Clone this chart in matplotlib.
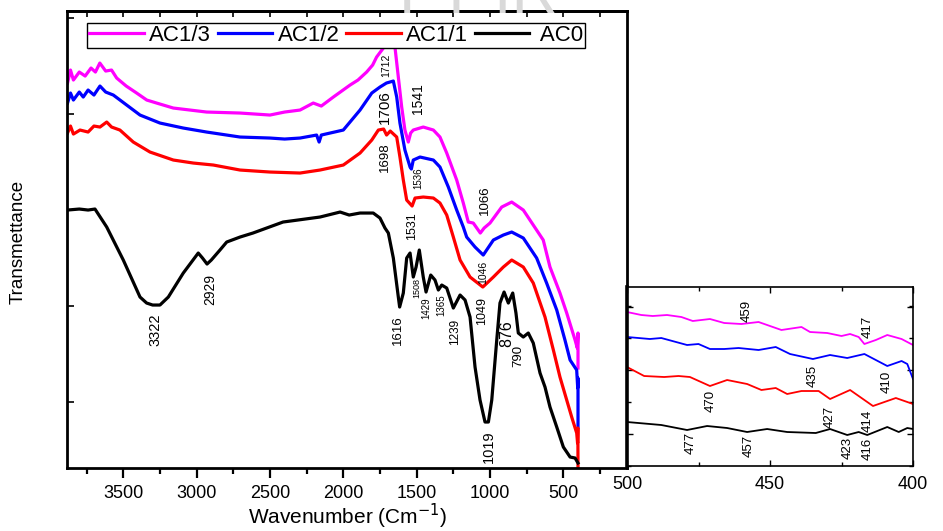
import matplotlib
matplotlib.use("Agg")
import matplotlib.pyplot as plt
from matplotlib.ticker import MultipleLocator, NullFormatter

plt.rcParams.update({
    "font.family": ["Liberation Sans", "DejaVu Sans"],
    "font.size": 13,
})

# ---------------- data (arbitrary transmittance, stacked) ----------------
ac13_wn = [3880, 3860, 3840, 3800, 3760, 3720, 3690, 3660, 3620, 3580, 3545, 3480,
           3409, 3340, 3273, 3159, 2932, 2704, 2500, 2400, 2295, 2205, 2150, 2068,
           1954, 1900, 1841, 1800, 1773, 1727, 1712, 1670, 1648, 1625, 1602, 1580,
           1557, 1541, 1523, 1455, 1386, 1341, 1295, 1227, 1182, 1148, 1114, 1066,
           1040, 1000, 920, 852, 773, 705, 637, 591, 523, 477, 420, 405, 400, 400]
ac13_t = [385, 398, 388, 396, 392, 400, 396, 405, 397, 398, 390, 382,
          375, 368, 365, 360, 356, 355, 353, 356, 358, 365, 362, 371,
          383, 388, 396, 403, 411, 420, 423, 426, 421, 391, 361, 338,
          326, 335, 338, 341, 338, 331, 315, 288, 265, 246, 245, 235,
          240, 245, 261, 266, 258, 243, 228, 201, 175, 155, 128, 120, 135, 100]

ac12_wn = [3880, 3860, 3840, 3800, 3773, 3740, 3700, 3659, 3620, 3568, 3477, 3386,
           3250, 3091, 2932, 2704, 2500, 2400, 2295, 2182, 2165, 2150, 2000, 1886,
           1806, 1750, 1706, 1659, 1636, 1614, 1580, 1545, 1536, 1523, 1477, 1386,
           1341, 1284, 1227, 1182, 1159, 1102, 1046, 977, 909, 852, 773, 682,
           614, 545, 489, 454, 409, 402, 400, 400]
ac12_t = [365, 375, 368, 376, 371, 378, 373, 382, 376, 373, 363, 353,
          345, 340, 336, 331, 330, 329, 330, 333, 326, 333, 338, 358,
          375, 381, 385, 387, 371, 345, 318, 301, 299, 308, 311, 308,
          301, 281, 258, 241, 231, 221, 213, 228, 233, 236, 230, 210,
          185, 158, 128, 108, 98, 80, 90, 41]

ac11_wn = [3880, 3860, 3840, 3795, 3740, 3700, 3659, 3613, 3580, 3523, 3432, 3318,
           3159, 3023, 2886, 2704, 2500, 2295, 2159, 2000, 1886, 1806, 1761, 1725,
           1705, 1680, 1636, 1614, 1591, 1568, 1531, 1511, 1455, 1386, 1341, 1295,
           1250, 1204, 1136, 1049, 977, 909, 852, 773, 705, 625, 568, 523,
           477, 443, 409, 403, 401, 400]
ac11_t = [335, 342, 334, 338, 336, 342, 341, 346, 341, 338, 326, 316,
          308, 305, 303, 298, 296, 295, 298, 303, 315, 328, 338, 339,
          333, 337, 331, 311, 288, 268, 262, 270, 271, 270, 265, 253,
          231, 208, 191, 181, 191, 201, 208, 201, 185, 151, 118, 91,
          68, 51, 35, 25, 40, 0]

ac0_wn = [3880, 3800, 3740, 3693, 3613, 3500, 3386, 3341, 3300, 3250, 3193, 3091,
          2989, 2960, 2929, 2900, 2841, 2795, 2704, 2616, 2411, 2159, 2022, 1960,
          1886, 1796, 1750, 1716, 1693, 1659, 1625, 1616, 1591, 1568, 1545, 1523,
          1504, 1482, 1455, 1436, 1404, 1375, 1352, 1329, 1295, 1250, 1204, 1170,
          1136, 1102, 1068, 1034, 1011, 988, 954, 932, 904, 875, 845, 823,
          807, 773, 739, 705, 659, 625, 591, 545, 500, 454, 420, 400]
ac0_t = [258, 259, 258, 259, 241, 208, 171, 165, 163, 163, 171, 195,
         215, 210, 204, 208, 218, 226, 231, 235, 246, 251, 256, 253,
         255, 255, 250, 240, 235, 210, 171, 161, 175, 210, 215, 191,
         201, 218, 191, 176, 193, 188, 178, 183, 180, 160, 173, 168,
         151, 101, 68, 46, 46, 68, 128, 165, 176, 165, 175, 155,
         135, 131, 135, 125, 95, 81, 61, 41, 21, 11, 10, 5]

# zoom 500-400 cm-1
z13_wn = [500, 495, 491, 486, 481, 477, 471, 466, 460, 454, 446, 439, 436, 430,
          425, 422, 419, 417, 413, 409, 404, 400]
z13_t = [154, 151, 150, 151, 149, 145, 147, 143, 142, 144, 136, 139, 134, 133,
         130, 132, 129, 122, 126, 131, 127, 121]
z12_wn = [500, 492, 488, 479, 475, 471, 466, 461, 454, 448, 443, 435, 429, 423,
          417, 409, 404, 402, 400]
z12_t = [129, 127, 128, 121, 122, 117, 117, 118, 116, 119, 112, 107, 111, 108,
         112, 100, 105, 102, 87]
z11_wn = [500, 494, 487, 482, 478, 471, 465, 458, 453, 448, 444, 439, 433, 429,
          422, 414, 406, 400]
z11_t = [99, 90, 89, 90, 89, 80, 86, 82, 76, 78, 72, 75, 75, 67,
         76, 60, 68, 62]
z0_wn = [500, 488, 479, 472, 465, 458, 451, 444, 434, 429, 423, 419, 416, 409,
         405, 402, 400]
z0_t = [44, 41, 36, 40, 38, 34, 37, 34, 33, 37, 31, 34, 31, 39,
        34, 38, 37]

series = [("AC1/3", "#ff00ff", ac13_wn, ac13_t, z13_wn, z13_t),
          ("AC1/2", "#0000ff", ac12_wn, ac12_t, z12_wn, z12_t),
          ("AC1/1", "#ff0000", ac11_wn, ac11_t, z11_wn, z11_t),
          (" AC0", "black", ac0_wn, ac0_t, z0_wn, z0_t)]

# peak labels: (text, wavenumber position, height, fontsize)
main_labels = [("1712", 1709, 403, 7.5), ("1706", 1716, 361, 11), ("1698", 1716, 311, 9.5),
               ("1541", 1488, 369, 10), ("1536", 1488, 290, 7), ("1066", 1033, 268, 9.5),
               ("1531", 1534, 242, 9), ("1046", 1045, 196, 7.5), ("1616", 1625, 138, 9.5),
               ("1508", 1500, 180, 6.5), ("1429", 1432, 160, 7), ("1365", 1329, 163, 7),
               ("1239", 1239, 136, 8.5), ("1049", 1057, 157, 9), ("876", 886, 134, 11.5),
               ("790", 807, 112, 9.5), ("1019", 1011, 21, 10.5), ("3322", 3284, 138, 10.5),
               ("2929", 2909, 179, 10)]
zoom_labels = [("459", 458, 155), ("417", 415.7, 139), ("435", 435.1, 90), ("410", 409.3, 84),
               ("470", 470.8, 65), ("477", 477.8, 23), ("457", 457.3, 20), ("427", 429.2, 49),
               ("423", 422.8, 18), ("414", 415.7, 45), ("416", 415.7, 17)]

# ---------------- figure ----------------
fig = plt.figure(figsize=(9.43, 5.31), dpi=100)

fig.text(0.507, 0.976, "FT-IR", color="#d9d9d9", fontsize=46, ha="center",
         va="baseline", zorder=0)

ax = fig.add_axes([0.0707, 0.1186, 0.5942, 0.8606])
for name, color, wn, t, _, _ in series:
    ax.plot(wn, t, color=color, lw=2.3, label=name, solid_joinstyle="round")

ax.set_xlim(3886, 66)
ax.set_ylim(0, 457)
ax.xaxis.set_major_locator(MultipleLocator(500))
ax.xaxis.set_minor_locator(MultipleLocator(250))
ax.set_xticks([3500, 3000, 2500, 2000, 1500, 1000, 500])
ax.set_yticks([66, 162, 258, 354, 450])
ax.yaxis.set_major_formatter(NullFormatter())
ax.tick_params(axis="x", which="major", direction="out", length=7, width=1.6,
               labelsize=13, pad=5)
ax.tick_params(axis="x", which="minor", direction="out", length=4, width=1.6)
ax.tick_params(axis="y", which="major", direction="in", length=5, width=1.2)
for s in ax.spines.values():
    s.set_linewidth(2.0)

top = ax.secondary_xaxis("top")
top.xaxis.set_major_locator(MultipleLocator(500))
top.xaxis.set_minor_locator(MultipleLocator(250))
top.tick_params(axis="x", which="both", direction="in", length=4, width=1.2,
                labeltop=False)
top.spines["top"].set_linewidth(2.0)

for txt, x, y, fs in main_labels:
    ax.text(x, y, txt, rotation=90, ha="center", va="center", fontsize=fs)

ax.legend(ncol=4, loc="upper left", bbox_to_anchor=(87 / 943, 1 - 23 / 531),
          bbox_transform=fig.transFigure, fontsize=16, handlelength=2.45,
          handletextpad=0.25, columnspacing=0.3, borderpad=0.1,
          borderaxespad=0, fancybox=False, edgecolor="black", framealpha=1)
ax.get_legend().get_frame().set_linewidth(1.0)

fig.text(18 / 943, 1 - 242 / 531, "Transmettance", rotation=90, ha="center",
         va="center", fontsize=13.5)
fig.text(348 / 943, 1 - 516 / 531, "Wavenumber (Cm$^{-1}$)", ha="center",
         va="center", fontsize=15)

# ---------------- zoomed inset ----------------
ins = fig.add_axes([0.6649, 0.1224, 0.3033, 0.3371])
ins.set_facecolor("white")
for name, color, _, _, zwn, zt in series:
    ins.plot(zwn, zt, color=color, lw=1.3)
ins.set_xlim(500, 400)
ins.set_ylim(0, 179)
ins.set_xticks([500, 450, 400])
ins.xaxis.set_minor_locator(MultipleLocator(25))
ins.set_yticks([32, 96, 159])
ins.yaxis.set_minor_locator(MultipleLocator(32))
ins.yaxis.set_major_formatter(NullFormatter())
ins.tick_params(which="both", direction="in", top=True, right=True, width=1.0,
                labelsize=13, pad=7)
ins.tick_params(which="major", length=4)
ins.tick_params(which="minor", length=3)
for s in ins.spines.values():
    s.set_linewidth(1.2)
ins.spines["left"].set_linewidth(2.6)
for txt, x, y in zoom_labels:
    ins.text(x, y, txt, rotation=90, ha="center", va="center", fontsize=9.5)

fig.savefig("out.png", dpi=100)
